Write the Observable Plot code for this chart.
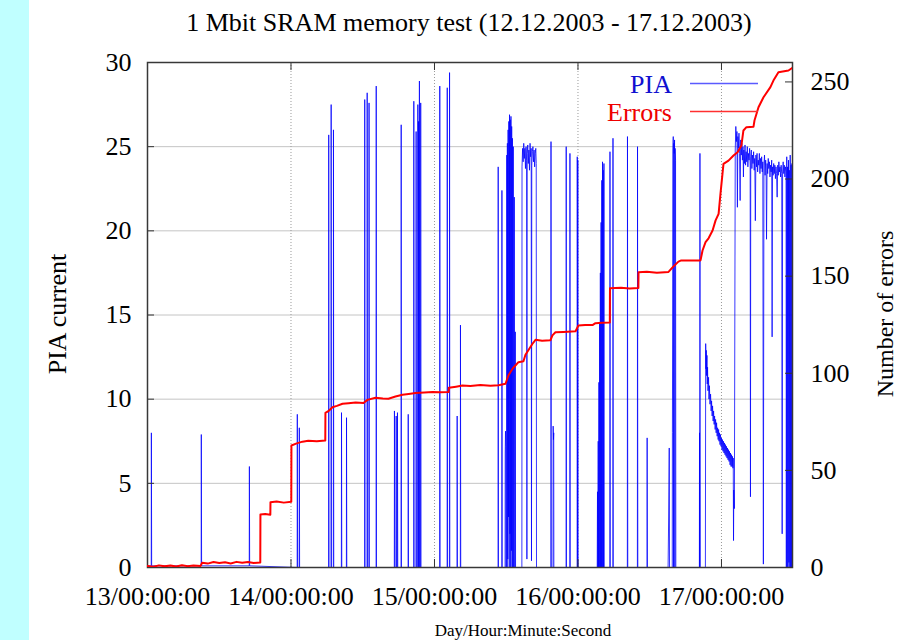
<!DOCTYPE html>
<html>
<head>
<meta charset="utf-8">
<script src="https://cdn.jsdelivr.net/npm/d3@7"></script>
<script src="https://cdn.jsdelivr.net/npm/@observablehq/plot@0.6"></script>
<style>
html, body { margin: 0; padding: 0; background: #ffffff; }
#chart { position: relative; width: 901px; height: 640px; overflow: hidden;
  background: linear-gradient(to right, #c0ffff 0, #c0ffff 29px, #ffffff 29px);
  font-family: "Liberation Serif", "Times New Roman", serif; }
#chart svg { position: absolute; left: 0; top: 0; }
</style>
</head>
<body>
<div id="chart"></div>
<script>
// ---------- data (time in days of December 2003) ----------
const titleText = "1 Mbit SRAM memory test (12.12.2003 - 17.12.2003)";
const dayTicks = [13, 14, 15, 16, 17];
const piaTicks = [0, 5, 10, 15, 20, 25, 30];
const errorTicks = [0, 50, 100, 150, 200, 250];
const xDomain = [13, 17.495];

// PIA current [day, current]
const piaReadings = [
[13.000,0.1],
[13.026,0.1],[13.027,8.0],[13.029,0.1],
[13.374,0.1],[13.375,7.9],[13.377,0.1],
[13.709,0.1],[13.710,6.0],[13.712,0.1],
[14.043,0],[14.044,9.1],[14.046,0],
[14.057,0],[14.058,8.3],[14.060,0],
[14.262,0],[14.263,25.7],[14.265,0],
[14.279,0],[14.280,27.5],[14.282,0],
[14.295,0],[14.296,26.0],[14.298,0],
[14.351,0],[14.352,9.2],[14.354,0],
[14.386,0],[14.387,8.9],[14.389,0],
[14.513,0],[14.514,27.8],[14.516,0],
[14.530,0],[14.531,28.2],[14.533,0],
[14.543,0],[14.544,27.6],[14.546,0],
[14.593,0],[14.594,28.6],[14.596,0],
[14.720,0],[14.721,9.3],[14.723,0],
[14.732,0],[14.733,9.0],[14.735,0],
[14.741,0],[14.742,9.2],[14.744,0],
[14.767,0],[14.768,26.3],[14.770,0],
[14.816,0],[14.817,9.1],[14.819,0],
[14.855,0],[14.856,27.7],[14.858,0],
[14.871,0],[14.872,25.9],[14.874,0],
[14.883,0],[14.884,27.5],[14.886,0],
[14.888,0],[14.889,26.5],[14.891,0],
[14.894,0],[14.895,28.9],[14.897,0],
[14.903,0],[14.904,27.6],[14.906,0],
[15.036,0],[15.037,28.6],[15.039,0],
[15.088,0],[15.089,28.5],[15.091,0],
[15.104,0],[15.105,29.4],[15.107,0],
[15.157,0],[15.158,9.0],[15.160,0],
[15.180,0],[15.181,14.4],[15.183,0],
[15.443,0],[15.444,23.8],[15.446,0],
[15.469,0],[15.470,22.4],[15.472,0],
[15.492,0],[15.493,6.8],[15.495,8.1],[15.497,7.2],[15.498,0],
[15.503,0],[15.504,24.5],[15.506,0],[15.508,25.2],[15.511,0.5],[15.513,26.0],[15.516,3.0],[15.518,26.5],[15.521,0],[15.523,26.9],[15.526,2.0],[15.528,26.6],[15.531,0],[15.533,26.8],[15.536,1.0],[15.538,26.2],[15.541,0],[15.543,25.5],[15.546,0],[15.549,25.0],[15.552,0],[15.556,22.0],[15.560,0],[15.563,14.0],[15.565,0],
[15.609,0],[15.610,23.8],[15.614,24.9],[15.618,24.1],[15.622,25.2],[15.626,24.3],[15.630,24.9],[15.634,23.7],[15.638,25.0],[15.642,24.2],[15.644,0.5],[15.646,24.6],[15.650,25.1],[15.654,24.0],[15.658,24.8],[15.662,23.6],[15.666,25.2],[15.670,24.4],[15.674,24.9],[15.676,0.4],[15.678,23.9],[15.682,24.7],[15.686,25.0],[15.690,24.1],[15.694,24.8],[15.698,23.8],[15.702,24.6],[15.706,24.9],[15.709,24.0],[15.711,0],
[15.811,0],[15.812,25.3],[15.814,0],
[15.826,0],[15.827,8.4],[15.829,7.6],[15.831,8.0],[15.832,0],
[15.917,0],[15.918,25.0],[15.920,0],
[15.943,0],[15.944,24.6],[15.946,0],
[15.994,0],[15.995,24.4],[15.997,0],[15.999,24.2],[16.001,0],
[16.134,0],[16.136,4.5],[16.138,0],[16.141,7.5],[16.143,0],[16.146,11.0],[16.148,0],[16.151,14.5],[16.153,0],[16.156,17.5],[16.158,0],[16.161,20.5],[16.163,0],[16.166,23.0],[16.168,0],[16.171,24.1],[16.173,0],[16.176,23.6],[16.178,0],[16.181,24.0],[16.183,0],
[16.222,0],[16.223,24.7],[16.225,0],
[16.243,0],[16.244,25.5],[16.246,0],
[16.344,0],[16.345,25.6],[16.347,0],
[16.414,0],[16.415,25.0],[16.417,0],
[16.481,0],[16.482,7.7],[16.484,0],
[16.628,0],[16.632,3.0],[16.636,7.1],[16.638,0],
[16.657,0],[16.658,8.0],[16.660,15.0],[16.662,24.8],[16.664,25.6],[16.666,0],[16.668,25.2],[16.671,24.6],[16.673,25.4],[16.675,0],[16.677,24.9],[16.680,24.2],[16.682,0],
[16.846,0],[16.847,8.0],[16.848,0],[16.850,24.6],[16.852,0],
[16.888,0],[16.890,13.3],[16.892,11.8],[16.894,12.9],[16.896,11.4],[16.899,12.6],[16.901,10.9],[16.903,11.9],[16.906,10.5],[16.910,11.3],[16.913,10.0],[16.916,10.8],[16.920,9.7],[16.924,10.3],[16.928,9.3],[16.931,9.9],[16.935,9.0],[16.938,9.6],[16.942,8.7],[16.945,9.3],[16.949,8.5],[16.952,9.0],[16.956,8.2],[16.959,8.8],[16.963,8.0],[16.966,8.6],[16.970,7.8],[16.973,8.3],[16.977,7.6],[16.980,8.2],[16.983,7.5],[16.986,8.0],[16.990,7.3],[16.993,7.9],[16.997,7.2],[17.000,7.7],[17.004,7.0],[17.007,7.6],[17.011,6.9],[17.014,7.5],[17.018,6.8],[17.021,7.4],[17.025,6.7],[17.028,7.3],[17.032,6.6],[17.035,7.2],[17.039,6.5],[17.042,7.1],[17.046,6.4],[17.049,7.0],[17.053,6.3],[17.056,6.9],[17.060,6.1],[17.063,6.8],[17.067,6.0],[17.070,6.7],[17.074,6.0],[17.077,6.6],[17.080,5.9],[17.082,6.5],[17.084,1.6],[17.086,4.6],[17.090,3.5],
[17.096,24.8],[17.100,26.2],[17.104,25.3],[17.108,25.9],[17.111,21.4],[17.114,25.6],[17.118,24.9],[17.122,25.8],[17.126,24.6],[17.130,21.8],[17.134,25.4],[17.138,24.5],[17.142,25.2],[17.146,24.2],[17.150,25.0],[17.153,23.2],[17.156,24.8],[17.160,24.0],[17.164,25.1],[17.168,23.9],[17.172,24.7],[17.176,24.1],[17.180,25.0],[17.184,23.8],[17.188,24.6],[17.192,24.2],[17.196,24.9],[17.200,23.9],[17.202,4.2],[17.204,24.4],[17.208,24.8],[17.212,23.7],[17.216,24.5],[17.220,24.0],[17.224,24.7],[17.228,23.6],[17.232,24.3],[17.236,20.6],[17.240,24.5],[17.244,23.8],[17.248,24.6],[17.252,23.5],[17.256,24.2],[17.260,23.9],[17.264,24.6],[17.268,23.4],[17.272,24.3],[17.276,23.7],[17.280,24.4],[17.284,23.5],[17.288,24.1],[17.292,0.2],[17.296,23.9],[17.300,24.5],[17.304,23.3],[17.308,24.2],[17.311,23.6],[17.314,19.5],[17.318,24.0],[17.322,23.4],[17.326,24.3],[17.330,23.7],[17.334,24.1],[17.338,23.2],[17.342,23.9],[17.346,23.5],[17.350,24.2],[17.353,13.7],[17.356,23.8],[17.360,23.3],[17.364,24.0],[17.368,23.4],[17.372,23.9],[17.376,23.1],[17.380,23.8],[17.384,23.4],[17.388,22.0],[17.392,23.9],[17.396,23.3],[17.400,24.1],[17.404,23.5],[17.408,23.8],[17.412,23.2],[17.416,23.9],[17.420,23.4],
[17.423,2.0],[17.426,23.5],[17.430,24.1],[17.434,23.4],[17.438,23.9],[17.442,23.2],[17.446,23.8],[17.450,23.5],[17.452,0],[17.455,24.4],[17.458,0],[17.461,23.8],[17.464,0],[17.467,24.2],[17.470,0.3],[17.473,23.6],[17.476,0],[17.479,24.5],[17.482,0],[17.485,23.9],[17.488,0],[17.491,24.0],[17.494,0.5]
];

// Cumulative number of errors [day, errors]
const errorReadings = [
[13.000,0.8],[13.040,0.4],[13.080,1.1],[13.120,0.6],[13.160,1.0],[13.200,0.5],[13.240,1.2],[13.280,0.7],[13.320,1.0],[13.370,0.8],
[13.380,2.4],[13.420,2.0],[13.460,2.8],[13.500,2.3],[13.540,2.7],[13.580,2.1],[13.620,2.9],[13.660,2.4],[13.700,2.8],[13.740,2.3],[13.786,2.6],
[13.787,27.3],[13.820,27.6],[13.856,27.2],
[13.857,33.6],[13.900,34.0],[13.950,33.4],[14.002,33.8],
[14.003,62.8],[14.040,63.9],[14.080,64.8],[14.120,65.2],[14.180,65.0],[14.239,65.4],
[14.240,79.6],[14.260,80.5],[14.289,82.5],[14.320,83.2],[14.359,84.3],[14.401,84.6],[14.450,84.9],[14.505,84.7],[14.533,86.3],[14.589,87.4],[14.640,87.0],[14.679,86.9],[14.728,88.0],[14.777,88.9],[14.820,89.3],[14.868,89.8],[14.930,90.1],[14.986,90.3],[15.040,90.2],[15.099,90.4],
[15.100,92.5],[15.150,93.1],[15.195,93.7],[15.250,93.5],[15.320,93.9],[15.390,93.6],[15.446,93.8],[15.495,94.6],[15.516,99.0],[15.545,102.5],[15.564,104.0],[15.585,105.7],[15.620,106.2],[15.634,109.5],[15.683,115.2],[15.704,117.2],[15.750,116.8],[15.808,117.0],[15.822,119.5],[15.843,121.1],[15.900,121.3],[15.983,121.6],[16.003,124.6],[16.050,124.9],[16.101,124.8],[16.122,125.8],[16.170,126.0],[16.222,126.2],
[16.223,143.8],[16.300,144.0],[16.360,143.7],[16.421,143.9],
[16.422,152.0],[16.480,152.3],[16.550,151.8],[16.631,152.2],[16.659,154.5],[16.700,157.5],[16.720,158.1],[16.854,158.1],
[16.868,163.2],[16.889,167.5],[16.910,169.5],[16.938,173.5],[16.959,178.7],[16.980,182.1],[16.993,192.4],[17.007,202.7],[17.014,207.8],[17.049,209.5],[17.084,212.1],[17.112,213.8],[17.139,217.3],[17.153,225.0],[17.174,226.7],[17.223,226.9],[17.230,230.1],[17.258,237.0],[17.293,242.1],[17.341,247.3],[17.362,250.7],[17.397,255.0],[17.467,255.9],[17.495,257.3]
];

// ---------- layout ----------
const frame = { width: 901, height: 640, marginLeft: 147, marginRight: 109, marginTop: 62, marginBottom: 73 };
const font = { background: "transparent", fontFamily: "'Liberation Serif', 'Times New Roman', serif", fontSize: "26px", color: "#000", overflow: "visible" };
const chart = document.getElementById("chart");

// PIA current (left axis)
const piaPlot = Plot.plot({
  ...frame,
  style: font,
  x: { domain: xDomain, label: null },
  y: { domain: [0, 30], label: null },
  marks: [
    Plot.ruleY(piaTicks.slice(1, -1), { y: d => d, stroke: "#c4c4c4", strokeWidth: 1 }),
    Plot.ruleX(dayTicks.slice(1), { x: d => d, stroke: "#9a9a9a", strokeDasharray: "1,2" }),
    Plot.line(piaReadings, { x: d => d[0], y: d => d[1], stroke: "#0000ff", strokeWidth: 1, strokeOpacity: 0.78, clip: true }),
    Plot.axisX(dayTicks, { tickSize: 0, tickPadding: 19, tickFormat: d => `${d}/00:00:00` }),
    Plot.axisY(piaTicks, { tickSize: 0, tickPadding: 16 }),
    Plot.tickY(piaTicks, { y: d => d, insetRight: 638, stroke: "#333" }),
    Plot.tickX(dayTicks, { x: d => d, insetTop: 497, stroke: "#333" }),
    Plot.tickX(dayTicks, { x: d => d, insetBottom: 497, stroke: "#333" }),
    Plot.frame({ stroke: "#383838", strokeWidth: 1.5 })
  ]
});
chart.appendChild(piaPlot);

// Number of errors (right axis)
const errPlot = Plot.plot({
  ...frame,
  style: font,
  x: { domain: xDomain, axis: null, label: null },
  y: { domain: [0, 260], label: null },
  marks: [
    Plot.line(errorReadings, { x: d => d[0], y: d => d[1], stroke: "#ff0000", strokeWidth: 2, clip: true }),
    Plot.axisY(errorTicks, { anchor: "right", tickSize: 0, tickPadding: 18 }),
    Plot.tickY(errorTicks, { y: d => d, insetLeft: 638, stroke: "#333" })
  ]
});
chart.appendChild(errPlot);

// ---------- titles, axis labels and key ----------
const deco = d3.select(chart).append("svg")
  .attr("width", 901).attr("height", 640)
  .style("font-family", "'Liberation Serif', 'Times New Roman', serif")
  .style("font-size", "26px");

deco.append("text").attr("x", 469).attr("y", 31).attr("text-anchor", "middle").text(titleText);
deco.append("text").attr("transform", "translate(66,314) rotate(-90)").attr("text-anchor", "middle").text("PIA current");
deco.append("text").attr("transform", "translate(893,314) rotate(-90)").attr("text-anchor", "middle").style("font-size", "24px").text("Number of errors");
deco.append("text").attr("x", 523).attr("y", 636).attr("text-anchor", "middle").style("font-size", "17px").text("Day/Hour:Minute:Second");

deco.append("text").attr("x", 672).attr("y", 93).attr("text-anchor", "end").attr("fill", "#1010d0").text("PIA");
deco.append("line").attr("x1", 690).attr("x2", 758).attr("y1", 83.5).attr("y2", 83.5).attr("stroke", "#5a5aff").attr("stroke-width", 1.5);
deco.append("text").attr("x", 672).attr("y", 121).attr("text-anchor", "end").attr("fill", "#ee0000").text("Errors");
deco.append("line").attr("x1", 690).attr("x2", 758).attr("y1", 111.5).attr("y2", 111.5).attr("stroke", "#ff3030").attr("stroke-width", 1.5);
</script>
</body>
</html>
